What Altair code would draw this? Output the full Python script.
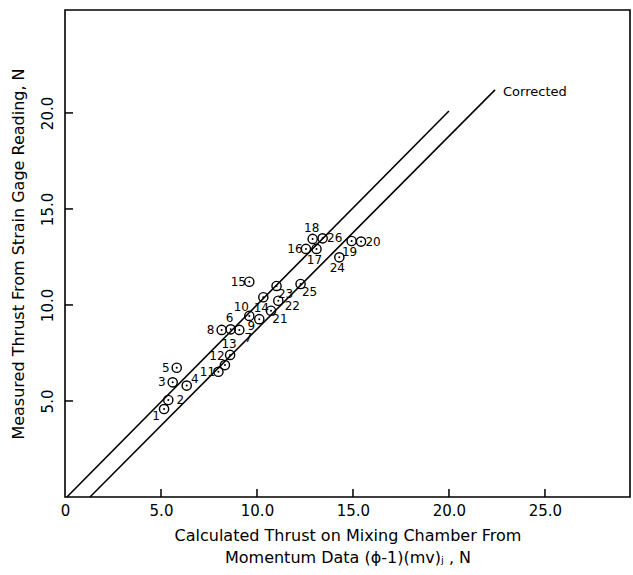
import altair as alt
import pandas as pd

# Run number and thrust pair for each test (N)
run_no = list(range(1, 27))
calc_thrust = [5.16, 5.38, 5.61, 6.34, 5.82, 8.63, 9.08, 8.16, 10.12, 9.60,
               7.99, 8.33, 8.60, 10.33, 9.60, 12.55, 13.10, 12.90, 14.93, 15.42,
               10.73, 11.11, 11.02, 14.29, 12.27, 13.42]
meas_thrust = [4.58, 5.05, 5.97, 5.80, 6.73, 8.73, 8.70, 8.70, 9.26, 9.43,
               6.52, 6.87, 7.40, 10.40, 11.21, 12.92, 12.92, 13.44, 13.33, 13.30,
               9.70, 10.22, 10.99, 12.48, 11.09, 13.47]

# Reference lines: equality line and the corrected line
ideal_x = [0.1, 20.0]
ideal_y = [0.0, 20.1]
corr_x = [1.3, 22.4]
corr_y = [0.0, 21.2]
corr_label = "Corrected"

x_ticks = [0, 5, 10, 15, 20, 25]
y_ticks = [5, 10, 15, 20]

# Where each run number sits relative to its marker
label_side = {
    1: "lower-left", 2: "right", 3: "left", 4: "upper-right", 5: "left",
    6: "above", 7: "lower-right", 8: "left", 9: "lower-left", 10: "upper-left",
    11: "left", 12: "upper-left", 13: "above", 14: "below", 15: "left",
    16: "left", 17: "below", 18: "above", 19: "below", 20: "right",
    21: "lower-right", 22: "far-right", 23: "lower-right", 24: "below",
    25: "lower-right", 26: "right",
}
side_offset = {
    "left": (-11, 0), "right": (12, 0), "far-right": (14, 5),
    "above": (-1, -11), "below": (-2, 11),
    "upper-left": (-8, -9), "lower-left": (-8, 7), "upper-right": (8, -7),
    "lower-right": (9, 8),
}

W, H = 565, 487
TICK_LEN = 8
FONT = "DejaVu Sans"

pts = pd.DataFrame({"run": run_no, "calc": calc_thrust, "meas": meas_thrust})
pts["label"] = pts["run"].astype(str)
pts["side"] = pts["run"].map(label_side)

lines = pd.DataFrame({
    "calc": ideal_x + corr_x,
    "meas": ideal_y + corr_y,
    "line": ["ideal", "ideal", "corrected", "corrected"],
})
corr_end = pd.DataFrame({"calc": [corr_x[1]], "meas": [corr_y[1]], "txt": [corr_label]})

xtick_df = pd.DataFrame({"calc": x_ticks[1:]})
ytick_df = pd.DataFrame({"meas": y_ticks})

xs = alt.Scale(domain=[0, 29.43], nice=False, zero=True)
ys = alt.Scale(domain=[0, 25.36], nice=False, zero=True)


def bare_x():
    return alt.X("calc:Q", scale=xs, axis=None)


def bare_y():
    return alt.Y("meas:Q", scale=ys, axis=None)


x_main = alt.X(
    "calc:Q", scale=xs,
    axis=alt.Axis(
        values=x_ticks, tickSize=0, domain=False, grid=False,
        labelExpr="datum.value == 0 ? '0' : format(datum.value, '.1f')",
        labelFont=FONT, labelFontSize=15, labelColor="black", labelPadding=6,
        labelFlush=False,
        title=["Calculated  Thrust  on  Mixing  Chamber  From",
               "Momentum  Data  (ϕ-1)(mv)ⱼ , N"],
        titleFont=FONT, titleFontSize=16, titleFontWeight="normal",
        titleColor="black", titlePadding=9, titleLineHeight=22,
    ),
)
y_main = alt.Y(
    "meas:Q", scale=ys,
    axis=alt.Axis(
        values=y_ticks, tickSize=0, domain=False, grid=False,
        labelExpr="format(datum.value, '.1f')",
        labelAngle=270, labelAlign="center", labelBaseline="bottom",
        labelFont=FONT, labelFontSize=15, labelColor="black", labelPadding=10,
        title="Measured  Thrust  From  Strain  Gage  Reading, N",
        titleFont=FONT, titleFontSize=16, titleFontWeight="normal",
        titleColor="black", titlePadding=14,
    ),
)

line_layer = alt.Chart(lines).mark_line(color="black", strokeWidth=1.6).encode(
    x=bare_x(), y=bare_y(), detail="line:N"
)

# Tick marks pointing into the frame from the bottom and left edges
xtick_layer = alt.Chart(xtick_df).mark_rule(color="black", strokeWidth=1.5).encode(
    x=bare_x(), y=alt.value(H), y2=alt.value(H - TICK_LEN)
)
ytick_layer = alt.Chart(ytick_df).mark_rule(color="black", strokeWidth=1.5).encode(
    y=bare_y(), x=alt.value(0), x2=alt.value(TICK_LEN)
)

circles = alt.Chart(pts).mark_point(
    shape="circle", size=85, filled=False, stroke="black", strokeWidth=1.4, opacity=1
).encode(x=x_main, y=y_main)

dots = alt.Chart(pts).mark_circle(size=4, color="black", opacity=1).encode(
    x=bare_x(), y=bare_y()
)

label_layers = []
for side, (dx, dy) in side_offset.items():
    label_layers.append(
        alt.Chart(pts).transform_filter(alt.datum.side == side).mark_text(
            dx=dx, dy=dy, font=FONT, fontSize=12, color="black",
            align="center", baseline="middle",
        ).encode(x=bare_x(), y=bare_y(), text="label:N")
    )

corr_text = alt.Chart(corr_end).mark_text(
    dx=8, dy=2, align="left", baseline="middle", font=FONT, fontSize=13, color="black"
).encode(x=bare_x(), y=bare_y(), text="txt:N")

chart = alt.layer(
    line_layer, xtick_layer, ytick_layer, circles, dots, *label_layers, corr_text
).resolve_axis(
    x="independent", y="independent"
).properties(
    width=W, height=H,
    autosize=alt.AutoSizeParams(type="none"),
    padding={"left": 65, "top": 10, "right": 3, "bottom": 78},
    background="white",
).configure_view(stroke="black", strokeWidth=1.6)

chart.save("out.html", embed_options={"renderer": "svg", "actions": False})
